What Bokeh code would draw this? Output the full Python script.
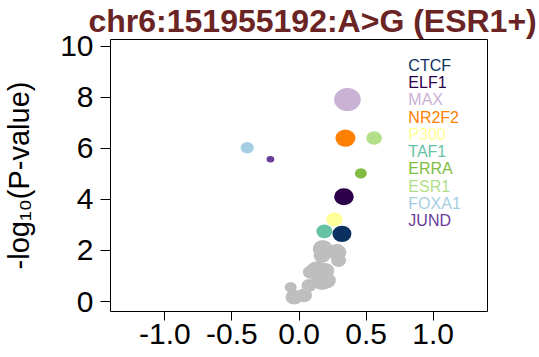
import math
from bokeh.plotting import figure
from bokeh.models import ColumnDataSource, FixedTicker, Range1d, PrintfTickFormatter
from bokeh.embed import file_html
from bokeh.resources import INLINE
from bokeh.core.properties import value

# ---------------- data ----------------
title_text = "chr6:151955192:A>G (ESR1+)"
y_label_text = "-log\u2081\u2080(P-value)"

tf_names = ["CTCF", "ELF1", "MAX", "NR2F2", "P300", "TAF1", "ERRA", "ESR1", "FOXA1", "JUND"]
tf_colors = ["#0B3160", "#2D004B", "#CAB2D6", "#FF7F00", "#FFFF99",
             "#66C2A5", "#7FBC41", "#B2DF8A", "#A6CEE3", "#6A3D9A"]
tf_effect = [0.320, 0.335, 0.361, 0.346, 0.264, 0.189, 0.461, 0.560, -0.386, -0.213]
tf_logp = [2.65, 4.10, 7.91, 6.40, 3.21, 2.75, 5.02, 6.40, 6.02, 5.57]
tf_weight = [19.0, 19.7, 26.7, 20.0, 16.3, 16.0, 12.0, 15.7, 13.3, 7.7]

bg_effect = [0.177, 0.282, 0.172, 0.295, 0.135, 0.085, 0.196, 0.172, 0.208, 0.074, -0.062, -0.037, 0.037]
bg_logp = [2.07, 1.93, 1.80, 1.61, 1.21, 1.15, 1.21, 0.82, 0.82, 0.63, 0.56, 0.17, 0.24]
bg_weight = [20, 19, 17, 15, 22, 15, 18, 22, 18, 15, 12, 17, 16]

x_ticks = [-1.0, -0.5, 0.0, 0.5, 1.0]
y_ticks = [0, 2, 4, 6, 8, 10]

# ---------------- layout constants ----------------
X_START, X_END = -1.405, 1.405
Y_START, Y_END = -0.39, 10.26
ASPECT = 1.16          # points are drawn slightly wider than tall
LEG_X, LEG_Y0, LEG_STEP = 0.815, 9.25, 0.676
FONT = "Liberation Sans"

p = figure(width=539, height=357, output_backend="svg", toolbar_location=None,
           x_range=Range1d(X_START, X_END), y_range=Range1d(Y_START, Y_END),
           min_border_left=106, min_border_right=52, min_border_top=39, min_border_bottom=46)

p.background_fill_color = "white"
p.border_fill_color = "white"
p.outline_line_color = "black"
p.outline_line_width = 1
p.xgrid.visible = False
p.ygrid.visible = False

# title
p.title.text = title_text
p.title.align = "left"
p.title.offset = -22
p.title.standoff = 1
p.title.text_font = FONT
p.title.text_font_style = "bold"
p.title.text_font_size = "32px"
p.title.text_color = "#6B2424"

# axes
for ax in (p.xaxis[0], p.yaxis[0]):
    ax.axis_line_color = None
    ax.major_tick_in = 0
    ax.minor_tick_line_color = None
    ax.major_tick_line_color = "black"
    ax.major_label_text_font = FONT
    ax.major_label_text_font_size = "30px"
    ax.major_label_text_color = "black"

p.xaxis.ticker = FixedTicker(ticks=x_ticks)
p.xaxis.formatter = PrintfTickFormatter(format="%.1f")
p.xaxis.major_tick_out = 9
p.xaxis.major_label_standoff = 3
p.yaxis.ticker = FixedTicker(ticks=y_ticks)
p.yaxis.major_tick_out = 10
p.yaxis.major_label_standoff = 7
p.yaxis.axis_label = y_label_text
p.yaxis.axis_label_text_font = FONT
p.yaxis.axis_label_text_font_style = "normal"
p.yaxis.axis_label_text_font_size = "29px"
p.yaxis.axis_label_text_color = "black"
p.yaxis.axis_label_standoff = 22

# background (grey) points
bg_src = ColumnDataSource(dict(x=bg_effect, y=bg_logp,
                               w=list(bg_weight),
                               h=[v / ASPECT for v in bg_weight]))
p.ellipse("x", "y", width="w", height="h", width_units="screen", height_units="screen",
          source=bg_src, fill_color="#BEBEBE", line_color=None)

# TF points
tf_src = ColumnDataSource(dict(x=tf_effect, y=tf_logp,
                               w=list(tf_weight),
                               h=[v / ASPECT for v in tf_weight],
                               c=tf_colors))
p.ellipse("x", "y", width="w", height="h", width_units="screen", height_units="screen",
          source=tf_src, fill_color="c", line_color=None)

# legend as coloured text
leg_src = ColumnDataSource(dict(x=[LEG_X] * len(tf_names),
                                y=[LEG_Y0 - i * LEG_STEP for i in range(len(tf_names))],
                                t=tf_names, c=tf_colors))
p.text("x", "y", text="t", text_color="c", source=leg_src,
       text_font=value(FONT), text_font_size="16px",
       text_align="left", text_baseline="alphabetic")

open("out.html", "w").write(file_html(p, INLINE))
